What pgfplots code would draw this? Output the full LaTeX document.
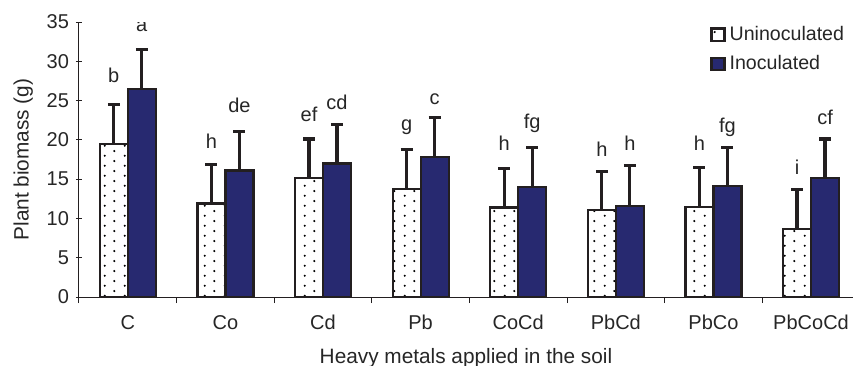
\documentclass[border=0pt]{standalone}
\usepackage{fontspec}
\setmainfont{Liberation Sans}
\usepackage{pgfplots}
\pgfplotsset{compat=1.18}
\usetikzlibrary{patterns.meta}
\definecolor{navy}{RGB}{39,41,112}
\definecolor{edge}{RGB}{35,31,32}
\tikzdeclarepattern{
  name=mydots,
  type=uncolored,
  bounding box={(0pt,0pt) and (10pt,4.8pt)},
  tile size={(10pt,4.8pt)},
  code={
    \pgfpathcircle{\pgfqpoint{2.5pt}{1.2pt}}{0.6pt}
    \pgfpathcircle{\pgfqpoint{7.5pt}{3.6pt}}{0.6pt}
    \pgfusepath{fill}
  }
}
\begin{document}
\begin{tikzpicture}
\begin{axis}[
  name=ax,
  scale only axis,
  width=387pt, height=137.5pt,
  xmin=-0.5, xmax=7.43,
  ymin=0, ymax=35,
  ytick={0,5,...,35},
  xtick={0,...,7},
  xticklabels={C,Co,Cd,Pb,CoCd,PbCd,PbCo,PbCoCd},
  minor xtick={-0.5,0.5,...,6.5},
  major x tick style={draw=none},
  minor tick length=3pt,
  major tick length=3pt,
  tick align=outside,
  axis lines=left,
  axis line style={-, line width=0.5pt, color=edge},
  tick style={line width=0.5pt, color=edge},
  every tick label/.append style={font=\fontsize{10}{12}\selectfont, text=black!85},
  /pgf/number format/assume math mode=true,
  xticklabel style={yshift=-2.5pt},
  ylabel={Plant biomass (g)},
  xlabel={Heavy metals applied in the soil},
  xlabel style={yshift=-2.5pt},
  label style={font=\fontsize{10.4}{12}\selectfont, text=black!85},
  ybar=0pt,
  bar width=14pt,
  legend style={at={(0.815,1.0)}, anchor=north west, draw=none, fill=none,
    font=\fontsize{9.8}{12}\selectfont, text=black!85, row sep=2pt,
    legend cell align=left, inner sep=0pt},
  legend image code/.code={\draw[#1, line width=1.2pt] (0pt,-3pt) rectangle (6.5pt,3.2pt);},
]
\addplot[draw=edge, line width=1.1pt, pattern=mydots, pattern color=black,
  error bars/.cd, y dir=plus, y explicit,
  error bar style={line width=1.6pt, color=edge},
  error mark options={rotate=90, mark size=3pt, line width=1.6pt, color=edge}]
  coordinates {
  (0,19.5) +- (0,5.0)
  (1,11.9) +- (0,5.0)
  (2,15.1) +- (0,5.0)
  (3,13.7) +- (0,5.1)
  (4,11.4) +- (0,5.0)
  (5,11.1) +- (0,4.9)
  (6,11.5) +- (0,5.0)
  (7,8.7) +- (0,5.0)
  };
\addplot[draw=edge, line width=1.1pt, fill=navy,
  error bars/.cd, y dir=plus, y explicit,
  error bar style={line width=1.6pt, color=edge},
  error mark options={rotate=90, mark size=3pt, line width=1.6pt, color=edge}]
  coordinates {
  (0,26.5) +- (0,5.0)
  (1,16.1) +- (0,5.0)
  (2,17.0) +- (0,5.0)
  (3,17.8) +- (0,5.0)
  (4,14.0) +- (0,5.0)
  (5,11.6) +- (0,5.1)
  (6,14.1) +- (0,4.95)
  (7,15.1) +- (0,5.0)
  };
\legend{Uninoculated, Inoculated}
\begin{scope}[every node/.style={font=\fontsize{10}{12}\selectfont, text=black!85, anchor=base, inner sep=0pt}]
\node[xshift=-7pt] at (axis cs:0,27.3) {b};
\node[xshift=7pt] at (axis cs:0,33.8) {a};
\node[xshift=-7pt] at (axis cs:1,18.95) {h};
\node[xshift=7pt] at (axis cs:1,23.5) {de};
\node[xshift=-7pt] at (axis cs:2,22.3) {ef};
\node[xshift=7pt] at (axis cs:2,23.9) {cd};
\node[xshift=-7pt] at (axis cs:3,21.2) {g};
\node[xshift=7pt] at (axis cs:3,24.55) {c};
\node[xshift=-7pt] at (axis cs:4,18.7) {h};
\node[xshift=7pt] at (axis cs:4,21.5) {fg};
\node[xshift=-7pt] at (axis cs:5,17.9) {h};
\node[xshift=7pt] at (axis cs:5,18.6) {h};
\node[xshift=-7pt] at (axis cs:6,18.6) {h};
\node[xshift=7pt] at (axis cs:6,20.9) {fg};
\node[xshift=-7pt] at (axis cs:7,15.6) {i};
\node[xshift=7pt] at (axis cs:7,22.0) {cf};
\end{scope}
\end{axis}
\pgfresetboundingbox
\path ([shift={(-39.5pt,-34pt)}]ax.south west) rectangle ([shift={(0pt,11pt)}]ax.north east);
\end{tikzpicture}
\end{document}
